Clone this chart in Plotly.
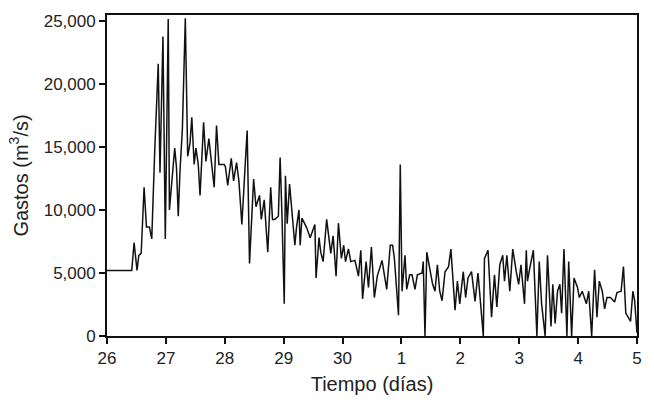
import plotly.graph_objects as go

# Time in days counted from the start of day 26
dias = [0.00, 0.42, 0.46, 0.51, 0.54, 0.58, 0.63, 0.67, 0.72, 0.76,
        0.81, 0.87, 0.90, 0.95, 0.99, 1.04, 1.06, 1.11, 1.15, 1.18,
        1.21, 1.24, 1.28, 1.33, 1.37, 1.41, 1.44, 1.48, 1.51, 1.55,
        1.58, 1.64, 1.68, 1.73, 1.77, 1.82, 1.86, 1.90, 1.99, 2.01,
        2.05, 2.11, 2.15, 2.20, 2.24, 2.29, 2.35, 2.38, 2.42, 2.49,
        2.53, 2.59, 2.62, 2.67, 2.73, 2.78, 2.81, 2.85, 2.91, 2.94,
        2.97, 3.01, 3.03, 3.06, 3.10, 3.14, 3.19, 3.22, 3.26, 3.28,
        3.31, 3.39, 3.45, 3.53, 3.55, 3.60, 3.63, 3.67, 3.73, 3.80,
        3.84, 3.89, 3.93, 3.98, 4.02, 4.05, 4.10, 4.14, 4.21, 4.27,
        4.31, 4.34, 4.40, 4.44, 4.49, 4.54, 4.59, 4.67, 4.75, 4.81,
        4.85, 4.88, 4.95, 4.98, 5.01, 5.06, 5.09, 5.14, 5.18, 5.23,
        5.27, 5.35, 5.37, 5.40, 5.43, 5.49, 5.53, 5.57, 5.61, 5.65,
        5.69, 5.74, 5.80, 5.84, 5.88, 5.91, 5.95, 5.99, 6.05, 6.09,
        6.13, 6.19, 6.25, 6.30, 6.39, 6.41, 6.47, 6.53, 6.58, 6.62,
        6.67, 6.72, 6.75, 6.79, 6.84, 6.89, 6.95, 6.99, 7.03, 7.09,
        7.12, 7.14, 7.18, 7.24, 7.30, 7.34, 7.38, 7.44, 7.48, 7.54,
        7.57, 7.61, 7.65, 7.69, 7.72, 7.76, 7.81, 7.84, 7.89, 7.93,
        7.99, 8.02, 8.07, 8.14, 8.18, 8.23, 8.28, 8.32, 8.36, 8.41,
        8.45, 8.49, 8.55, 8.57, 8.62, 8.66, 8.73, 8.77, 8.81, 8.85,
        8.89, 8.93, 8.96, 9.00]

gastos = [5200, 5200, 7400, 5200, 6400, 6550, 11800, 8650, 8650, 7700,
          14650, 21600, 12950, 23750, 7700, 25150, 10000, 12600, 14900, 13350,
          9500, 13100, 16450, 25200, 14250, 15300, 17350, 13600, 14900, 13600,
          11150, 16950, 13850, 15650, 13850, 11800, 16700, 13600, 13600, 13450,
          11950, 14100, 12300, 13750, 12300, 8850, 13850, 16300, 5750, 12450,
          10250, 11150, 9250, 10800, 6650, 11800, 9250, 9250, 9500, 14150,
          9750, 2550, 12700, 8900, 12050, 9900, 7200, 8700, 10000, 7200,
          9350, 8600, 7800, 8850, 4600, 7800, 6650, 5900, 9250, 6550,
          7950, 4750, 8950, 6150, 7200, 5900, 6900, 5900, 6000, 4750,
          6800, 2950, 5900, 3850, 7050, 3050, 4750, 6000, 3700, 7200,
          7200, 6150, 1650, 13600, 3550, 6400, 3700, 4850, 4850, 3700,
          4850, 5000, 5900, 0, 6650, 5100, 4100, 3550, 5650, 3550,
          2800, 5100, 5500, 6900, 4100, 2050, 4350, 2550, 5100, 3050,
          4600, 5100, 2750, 5000, 0, 6150, 6800, 1500, 4850, 2300,
          5650, 6400, 4350, 6400, 3550, 6900, 5100, 4100, 5650, 2550,
          6800, 4350, 5400, 6800, 0, 5900, 2550, 0, 6400, 750,
          4100, 1000, 3550, 4100, 1800, 6900, 0, 5900, 0, 4600,
          3850, 3050, 3550, 2550, 3550, 0, 5250, 1500, 4350, 3550,
          2150, 3050, 3050, 2950, 2700, 3450, 3550, 5500, 1800, 1500,
          1150, 3550, 2800, 250]

tick_pos = [0, 1, 2, 3, 4, 5, 6, 7, 8, 9]
tick_txt = ["26", "27", "28", "29", "30", "1", "2", "3", "4", "5"]
y_ticks = [0, 5000, 10000, 15000, 20000, 25000]

fig = go.Figure(go.Scatter(x=dias, y=gastos, mode="lines",
                           line=dict(color="#111111", width=1.5)))

font = dict(family="Liberation Sans, Arial, sans-serif", size=17, color="#222222")

fig.update_layout(
    width=654, height=404,
    margin=dict(l=107, r=12, t=13, b=61),
    paper_bgcolor="white", plot_bgcolor="white",
    showlegend=False, font=font,
)
fig.update_xaxes(range=[0, 9], tickvals=tick_pos, ticktext=tick_txt,
                 ticks="outside", ticklen=6, tickwidth=1.5, tickcolor="#111",
                 showline=True, linecolor="#111", linewidth=1.8, mirror=True,
                 showgrid=False, zeroline=False,
                 title=dict(text="Tiempo (días)", standoff=10))
fig.update_yaxes(range=[0, 25460], tickvals=y_ticks, tickformat=",d",
                 ticks="outside", ticklen=6, tickwidth=1.5, tickcolor="#111",
                 showline=True, linecolor="#111", linewidth=1.8, mirror=True,
                 showgrid=False, zeroline=False,
                 title=dict(text="Gastos (m<sup>3</sup>/s)", standoff=10))

fig.write_html("out.html")
